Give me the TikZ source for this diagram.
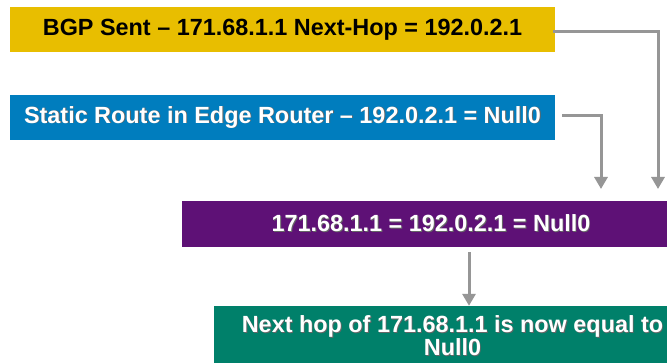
\documentclass[tikz,border=0pt]{standalone}
\usepackage{fontspec}
\setmainfont{Liberation Sans}
\usetikzlibrary{arrows.meta}
\definecolor{cyellow}{RGB}{232,190,0}
\definecolor{cblue}{RGB}{0,125,190}
\definecolor{cpurple}{RGB}{94,17,118}
\definecolor{cgreen}{RGB}{0,128,106}
\definecolor{cline}{RGB}{150,150,150}
\newcommand\shad[1]{\leavevmode\rlap{\kern0.9pt\raisebox{-0.9pt}{\color{black!60}#1}}#1}
\tikzset{
  box/.style={rectangle, inner sep=0pt, anchor=center, font=\fontsize{23.4}{23.4}\selectfont\bfseries},
  conn/.style={line width=3pt, cline, -{Triangle[width=13pt,length=12pt]}},
  connshadow/.style={line width=1pt, black!75, xshift=1.6pt, yshift=1.6pt},
}
\begin{document}
\begin{tikzpicture}[x=1pt,y=-1pt]
\useasboundingbox (0,0) rectangle (667,363);
\fill[white] (0,0) rectangle (667,363);
\node[box, fill=cyellow, text=black, minimum width=545pt, minimum height=45pt] (yellow) at (282.5,29.5) {BGP Sent -- 171.68.1.1 Next-Hop = 192.0.2.1};
\node[box, fill=cblue, text=white, minimum width=545pt, minimum height=45pt] (blue) at (282.5,117.5) {\shad{Static Route in Edge Router -- 192.0.2.1 = Null0}};
\node[box, fill=cpurple, text=white, minimum width=498pt, minimum height=46pt] (purple) at (431,224) {\shad{171.68.1.1 = 192.0.2.1 = Null0}};
\node[box, fill=cgreen, text=white, minimum width=477pt, minimum height=60pt, align=center] (green) at (452.5,336) {\shad{Next hop of 171.68.1.1 is now equal to}\\[-1pt]\shad{Null0}};
\coordinate (t1) at (658,189);
\coordinate (t2) at (601,189);
\coordinate (s2) at (562,116);
\coordinate (s1) at (553,32);
% shadows
\draw[connshadow] (s1) -| ([yshift=10pt]t1);
\draw[connshadow] (s2) -| ([yshift=10pt]t2);
\draw[connshadow] ([xshift=38pt,yshift=-5pt]purple.south) -- ([xshift=16.5pt,yshift=9pt]green.north);
% connectors
\draw[conn] (s1) -| (t1);
\draw[conn] (s2) -| (t2);
\draw[conn] ([xshift=38pt,yshift=-5pt]purple.south) -- ([xshift=16.5pt]green.north);
\end{tikzpicture}
\end{document}
